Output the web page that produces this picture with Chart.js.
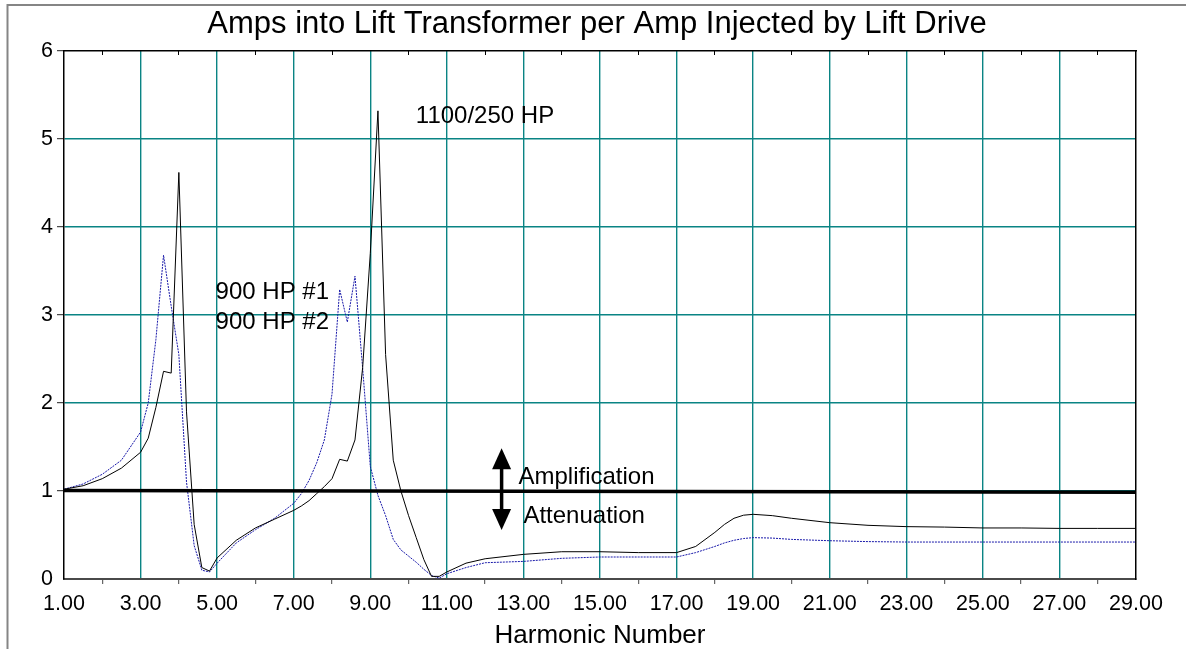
<!DOCTYPE html>
<html><head><meta charset="utf-8">
<script src="https://cdn.jsdelivr.net/npm/chart.js@4.4.1/dist/chart.umd.min.js"></script>
<style>html,body{margin:0;padding:0;background:#fff;overflow:hidden}</style>
</head><body>
<canvas id="c" width="1186" height="649"></canvas>
<script>
// ---- data ----
const harmonics = [1,1.5,2,2.5,3, 3.2,3.4,3.6,3.8,4.0, 4.2,4.4,4.6,4.8,5.0, 5.5,6.0,6.5,7.0,7.2, 7.4,7.6,7.8,8.0,8.2, 8.4,8.6,8.8,9.0,9.2, 9.4,9.6,9.8,10.0,10.2, 10.4,10.6,10.8,11.0,11.5, 12,13,14,15,16, 17,17.5,18,18.25,18.5, 18.75,19,19.5,20,21, 22,23,24,25,26, 27,28,29];
const hp1100 = [1.02,1.06,1.14,1.26,1.44, 1.60,1.95,2.36,2.34,4.62, 1.90,0.62,0.13,0.09,0.24, 0.44,0.58,0.68,0.78,0.83, 0.89,0.97,1.05,1.14,1.36, 1.34,1.58,2.40,3.70,5.32, 2.55,1.35,1.00,0.72,0.47, 0.22,0.03,0.03,0.08,0.18, 0.23,0.28,0.31,0.31,0.30, 0.30,0.37,0.53,0.62,0.69, 0.725,0.735,0.72,0.69,0.64, 0.61,0.595,0.59,0.58,0.58, 0.575,0.575,0.575];
const hp900 = [1.02,1.08,1.19,1.35,1.67, 2.00,2.72,3.68,3.10,2.55, 1.10,0.38,0.10,0.08,0.18, 0.41,0.56,0.69,0.86,0.97, 1.12,1.32,1.58,2.10,3.29, 2.92,3.44,2.40,1.28,0.95, 0.72,0.45,0.33,0.26,0.19, 0.11,0.04,0.01,0.06,0.13, 0.185,0.20,0.235,0.25,0.25, 0.25,0.30,0.37,0.41,0.44, 0.46,0.47,0.465,0.45,0.435, 0.425,0.42,0.42,0.42,0.42, 0.42,0.42,0.42];
const refX = [1, 29];
const refY = [1.005, 0.985];
const titleText = 'Amps into Lift Transformer per Amp Injected by Lift Drive';
const xTitle = 'Harmonic Number';
const notes = [
  {text:'1100/250 HP', x:10.19, y:5.18},
  {text:'900 HP #1', x:4.96, y:3.178},
  {text:'900 HP #2', x:4.96, y:2.838},
  {text:'Amplification', x:12.87, y:1.08},
  {text:'Attenuation', x:13.0, y:0.633}
];
const arrow = {x:12.43, yTop:1.485, yBottom:0.557};

const FONT = "'Liberation Sans', Arial, sans-serif";
const TEAL = 'rgb(10,132,132)';
const NONE = 'rgba(0,0,0,0)';

const framePlugin = {
  id:'frame',
  beforeDraw(chart){
    const ctx = chart.ctx;
    ctx.save();
    ctx.fillStyle = '#fff';
    ctx.fillRect(0,0,chart.width,chart.height);
    ctx.strokeStyle = '#858585';
    ctx.lineWidth = 2;
    ctx.beginPath();
    ctx.moveTo(7.5, chart.height);
    ctx.lineTo(7.5, 5);
    ctx.lineTo(chart.width, 5);
    ctx.stroke();
    ctx.restore();
  }
};

const notesPlugin = {
  id:'notes',
  afterDatasetsDraw(chart){
    const ctx = chart.ctx, xs = chart.scales.x, ys = chart.scales.y;
    ctx.save();
    ctx.fillStyle = '#000';
    ctx.font = '24px ' + FONT;
    ctx.textAlign = 'left';
    ctx.textBaseline = 'alphabetic';
    notes.forEach(n => ctx.fillText(n.text, xs.getPixelForValue(n.x), ys.getPixelForValue(n.y)));
    const ax = xs.getPixelForValue(arrow.x);
    const t = ys.getPixelForValue(arrow.yTop), b = ys.getPixelForValue(arrow.yBottom);
    const hh = 21, hw = 9.5;
    ctx.strokeStyle = '#000';
    ctx.lineWidth = 3.5;
    ctx.beginPath(); ctx.moveTo(ax, t + hh - 2); ctx.lineTo(ax, b - hh + 2); ctx.stroke();
    ctx.beginPath(); ctx.moveTo(ax, t); ctx.lineTo(ax - hw, t + hh); ctx.lineTo(ax + hw, t + hh); ctx.closePath(); ctx.fill();
    ctx.beginPath(); ctx.moveTo(ax, b); ctx.lineTo(ax - hw, b - hh); ctx.lineTo(ax + hw, b - hh); ctx.closePath(); ctx.fill();
    ctx.restore();
  }
};

const isOdd = v => Math.round(v) % 2 === 1;

new Chart(document.getElementById('c'), {
  type:'line',
  data:{
    datasets:[
      {label:'Amplification / Attenuation', data: refX.map((x,i)=>({x, y:refY[i]})), borderColor:'#000', borderWidth:3.5, borderCapStyle:'square', pointRadius:0, order:0},
      {label:'1100/250 HP', data: harmonics.map((x,i)=>({x, y:hp1100[i]})), borderColor:'#000', borderWidth:1, pointRadius:0, order:1},
      {label:'900 HP', data: harmonics.map((x,i)=>({x, y:hp900[i]})), borderColor:'rgb(25,25,170)', borderWidth:1, borderDash:[2,1], pointRadius:0, order:2}
    ]
  },
  options:{
    responsive:false, animation:false, devicePixelRatio:1,
    layout:{padding:{left:8, right:0, top:0, bottom:0}},
    plugins:{
      legend:{display:false}, tooltip:{enabled:false},
      title:{display:true, text:titleText, color:'#000', font:{family:FONT, size:31, weight:'normal', lineHeight:1.2}, padding:{top:5.7, bottom:8.1}}
    },
    scales:{
      x:{type:'linear', position:'bottom', min:1, max:29,
        afterFit(s){ s.height = 70; },
        ticks:{stepSize:1, autoSkip:false, maxRotation:0, color:'#000', font:{family:FONT, size:21.5}, padding:7.6,
          callback:v => isOdd(v) ? Number(v).toFixed(2) : ''},
        grid:{color:c => (c.tick && isOdd(c.tick.value) && c.tick.value > 1 && c.tick.value < 29) ? TEAL : NONE,
              tickColor:c => (c.tick && !isOdd(c.tick.value)) ? '#444' : NONE, tickLength:5, lineWidth:1.4, tickWidth:1},
        border:{color:'#4a4a4a', width:2},
        title:{display:true, text:xTitle, color:'#000', font:{family:FONT, size:26, lineHeight:1}, padding:0}
      },
      y:{type:'linear', position:'left', min:0, max:6,
        afterFit(s){ s.width = 56; },
        ticks:{stepSize:1, color:'#000', font:{family:FONT, size:21.5}, padding:4, callback:v => String(v)},
        grid:{color:c => (c.tick && c.tick.value > 0 && c.tick.value < 6) ? TEAL : NONE,
              tickColor:c => (c.tick && c.tick.value === 0) ? NONE : '#222', tickLength:7, lineWidth:1.4, tickWidth:1},
        border:{color:'#000', width:1.5}
      },
      x2:{type:'linear', position:'top', min:1, max:29,
        afterFit(s){ s.height = 0; },
        ticks:{display:false, stepSize:1, autoSkip:false},
        grid:{drawOnChartArea:false, tickLength:-4, tickColor:c => (c.tick && !isOdd(c.tick.value)) ? '#000' : NONE},
        border:{color:'#000', width:1.5}
      },
      y2:{type:'linear', position:'right', min:0, max:6,
        afterFit(s){ s.width = 50; },
        ticks:{display:false},
        grid:{drawOnChartArea:false, drawTicks:false},
        border:{color:'#000', width:1.5}
      }
    }
  },
  plugins:[framePlugin, notesPlugin]
});
</script>
</body></html>
